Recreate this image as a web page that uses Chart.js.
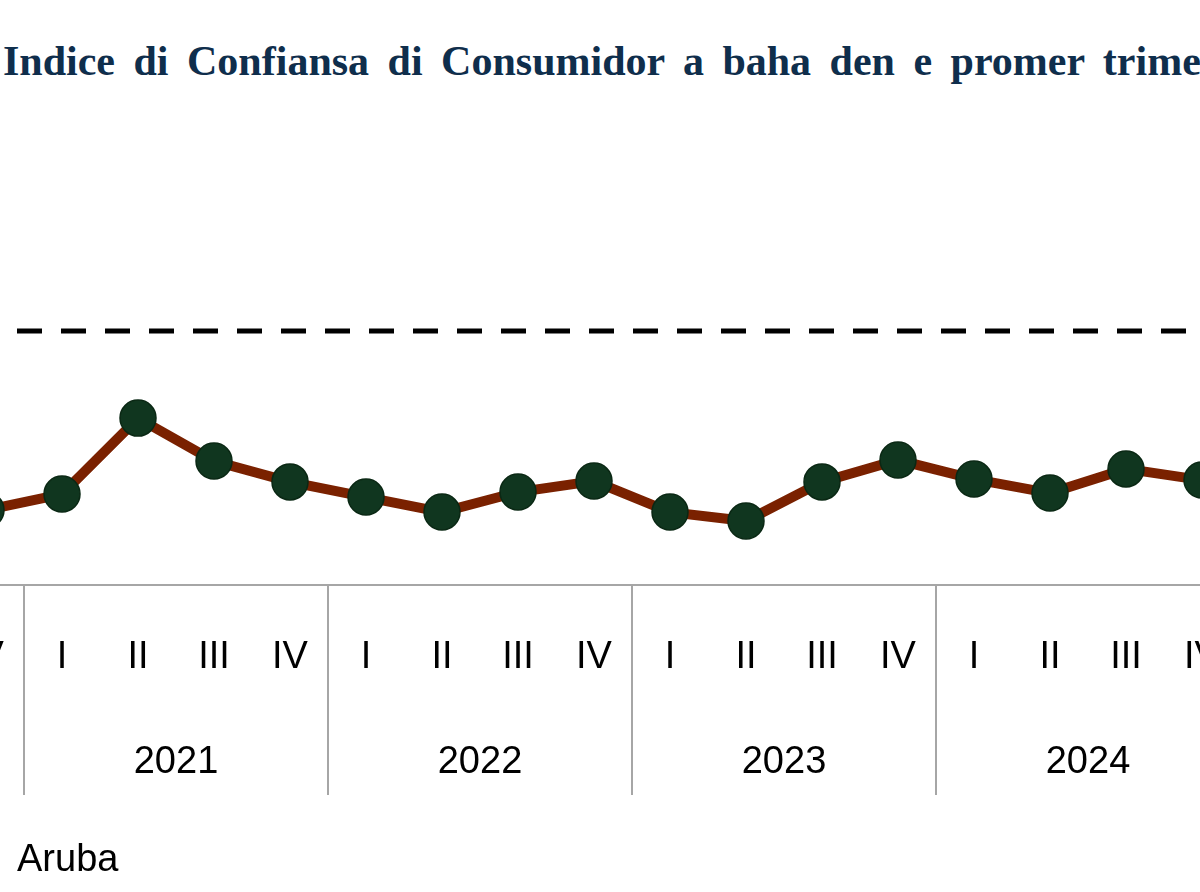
<!DOCTYPE html>
<html>
<head>
<meta charset="utf-8">
<title>Indice di Confiansa di Consumidor</title>
<script src="https://cdn.jsdelivr.net/npm/chart.js@4.4.1/dist/chart.umd.min.js"></script>
<style>
  html, body { margin: 0; padding: 0; width: 1200px; height: 892px; overflow: hidden; background: #fff; }
  #title {
    position: absolute; left: 3px; top: 40px; margin: 0;
    font: bold 42px/42px "Liberation Serif", "Times New Roman", serif;
    color: #0f2e4c; white-space: nowrap; word-spacing: 8px;
  }
  #wrap { position: absolute; left: -52px; top: 0; width: 1292px; height: 892px; }
</style>
</head>
<body>
<h1 id="title">Indice di Confiansa di Consumidor a baha den e promer trimester</h1>
<div id="wrap"><canvas id="myChart" width="1292" height="892"></canvas></div>
<script>
// visible part of the chart: last quarter of 2020 up to last quarter of 2024
var quarters = ['IV', 'I', 'II', 'III', 'IV', 'I', 'II', 'III', 'IV', 'I', 'II', 'III', 'IV', 'I', 'II', 'III', 'IV'];
var years = ['2020', '2021', '2021', '2021', '2021', '2022', '2022', '2022', '2022',
             '2023', '2023', '2023', '2023', '2024', '2024', '2024', '2024'];
var aruba = [29.5, 35.8, 65.7, 48.8, 40.6, 34.6, 28.7, 36.6, 40.9, 28.7, 25.2, 40.6, 49.2, 41.7, 36.2, 45.7, 41.3];
var reference = [100, 100, 100, 100, 100, 100, 100, 100, 100, 100, 100, 100, 100, 100, 100, 100, 100];

// year label sits between quarter II and III, separators between years
var yearCenters = [];
var yearBreaks = [];
for (var i = 0; i < quarters.length; i++) {
    if (i > 0 && years[i] !== years[i - 1]) yearBreaks.push(i - 0.5);
    if (quarters[i] === 'II' && quarters[i + 1] === 'III' && years[i] === years[i + 1]) {
        yearCenters.push({ value: i + 0.5, label: years[i] });
    }
}

var yearSeparators = {
    id: 'yearSeparators',
    afterDraw: function (chart, args, opts) {
        var x2 = chart.scales.x2;
        var ctx = chart.ctx;
        ctx.save();
        ctx.strokeStyle = opts.color;
        ctx.lineWidth = opts.width;
        yearBreaks.forEach(function (v) {
            var px = Math.round(x2.getPixelForValue(v));
            ctx.beginPath();
            ctx.moveTo(px, chart.chartArea.bottom);
            ctx.lineTo(px, x2.top + opts.drop);
            ctx.stroke();
        });
        ctx.restore();
    }
};

Chart.defaults.font.family = '"Liberation Sans", Arial, sans-serif';
Chart.defaults.color = '#000';

function renderChart() {
    var ctx = document.getElementById('myChart').getContext('2d');
    var myChart = new Chart(ctx, {
        type: 'line',
        data: {
            labels: quarters,
            datasets: [{
                label: 'Aruba',
                data: aruba,
                borderColor: '#7a2100',
                backgroundColor: '#10361f',
                borderWidth: 10,
                tension: 0,
                pointRadius: 18,
                pointHoverRadius: 18,
                pointBackgroundColor: '#10361f',
                pointBorderColor: '#0a2814',
                pointBorderWidth: 1.5,
                order: 1
            }, {
                label: 'Referensia',
                data: reference,
                borderColor: '#000',
                borderWidth: 5,
                borderDash: [25, 19],
                borderDashOffset: 13,
                pointRadius: 0,
                fill: false,
                order: 2
            }]
        },
        options: {
            responsive: false,
            animation: false,
            devicePixelRatio: 1,
            layout: { autoPadding: false, padding: { top: 204, bottom: 2, left: 0, right: 0 } },
            scales: {
                y: { display: false, min: 0, max: 150 },
                x: {
                    type: 'category',
                    offset: true,
                    weight: 0,
                    // tick marks hidden, tickLength only pushes the labels down
                    grid: { display: false, drawTicks: true, tickLength: 50 },
                    border: { display: true, color: '#a6a6a6', width: 2 },
                    ticks: { padding: 0, font: { size: 38 }, maxRotation: 0, autoSkip: false },
                    afterFit: function (axis) { axis.height = 110; }
                },
                x2: {
                    type: 'linear',
                    position: 'bottom',
                    weight: 1,
                    min: -0.5,
                    max: quarters.length - 0.5,
                    grid: { display: false, drawTicks: true, tickLength: 45 },
                    border: { display: false },
                    afterBuildTicks: function (axis) {
                        axis.ticks = yearCenters.map(function (c) { return { value: c.value }; });
                    },
                    ticks: {
                        padding: 0,
                        font: { size: 38 },
                        maxRotation: 0,
                        autoSkip: false,
                        callback: function (value) {
                            var hit = yearCenters.filter(function (c) { return c.value === value; });
                            return hit.length ? hit[0].label : '';
                        }
                    },
                    afterFit: function (axis) { axis.height = 137; }
                }
            },
            plugins: {
                legend: {
                    position: 'bottom',
                    align: 'start',
                    labels: {
                        boxWidth: 40,
                        padding: 10,
                        font: { size: 38 },
                        generateLabels: function (chart) {
                            var items = Chart.defaults.plugins.legend.labels.generateLabels(chart);
                            return items.filter(function (item) { return item.datasetIndex === 0; })
                                .map(function (item) {
                                    item.lineWidth = 1;
                                    item.strokeStyle = '#9a9a9a';
                                    item.fillStyle = '#ffffff';
                                    return item;
                                });
                        }
                    }
                },
                tooltip: { enabled: false },
                yearSeparators: { color: '#a6a6a6', width: 2, drop: 100 }
            }
        },
        plugins: [yearSeparators]
    });
}

renderChart();
</script>
</body>
</html>
